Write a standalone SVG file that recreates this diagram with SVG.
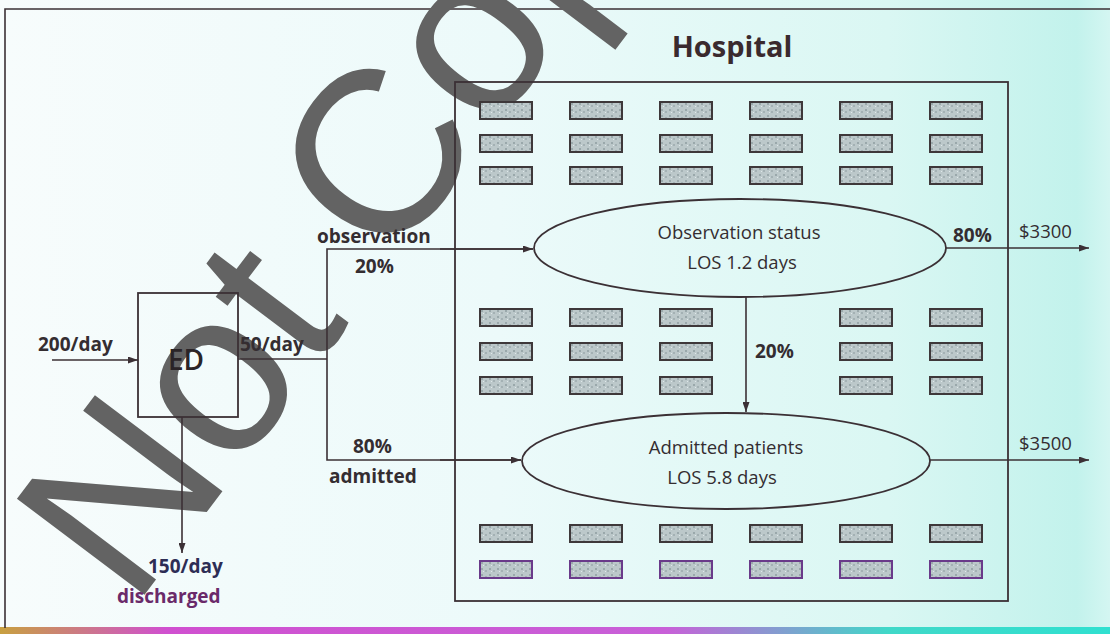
<svg xmlns="http://www.w3.org/2000/svg" xmlns:xlink="http://www.w3.org/1999/xlink" width="1110" height="634" viewBox="0 0 1110 634">
  <defs>
    <linearGradient id="paper" x1="0" y1="0" x2="1" y2="0">
      <stop offset="0" stop-color="#f7fcfc"/>
      <stop offset="0.45" stop-color="#ecfafa"/>
      <stop offset="0.8" stop-color="#daf7f3"/>
      <stop offset="0.97" stop-color="#c2f2ec"/>
      <stop offset="1" stop-color="#d4f6f2"/>
    </linearGradient>
    <linearGradient id="edge" x1="0" y1="0" x2="1" y2="0">
      <stop offset="0" stop-color="#c8a040"/>
      <stop offset="0.15" stop-color="#d050d0"/>
      <stop offset="0.6" stop-color="#c860d8"/>
      <stop offset="0.8" stop-color="#40d8c8"/>
      <stop offset="1" stop-color="#30e0d0"/>
    </linearGradient>
    <pattern id="speckle" width="8" height="6" patternUnits="userSpaceOnUse">
      <rect width="8" height="6" fill="#bcc8ca"/>
      <rect x="1" y="1" width="2" height="2" fill="#9aa8ab"/>
      <rect x="5" y="3" width="2" height="2" fill="#a4b1b4"/>
      <rect x="3" y="4" width="1" height="1" fill="#dfe8ea"/>
    </pattern>
    <rect id="bed" width="52" height="17" fill="url(#speckle)" stroke="#3e383a" stroke-width="2"/>
    <rect id="bedlow" width="52" height="17" fill="url(#speckle)" stroke="#6a3a8a" stroke-width="2"/>
    <marker id="arrow" viewBox="0 0 10 7" refX="10" refY="3.5" markerWidth="10" markerHeight="7" markerUnits="userSpaceOnUse" orient="auto">
      <path d="M0,0 L10,3.5 L0,7 z" fill="#3b3035"/>
    </marker>
    <style>
      .ln { fill: none; stroke: #3b3035; stroke-width: 1.6; }
      .box { fill: none; stroke: #3b3035; stroke-width: 1.8; }
      .lbl { font-family: "Open Sans", "Noto Sans", sans-serif; font-weight: bold; font-size: 19px; fill: #342d31; }
      .reg { font-family: "Open Sans", "Noto Sans", sans-serif; font-size: 18.5px; fill: #342d31; }
      .mark { font-family: "Liberation Sans", Arial, sans-serif; font-size: 232px; fill: #636363; }
    </style>
  </defs>

  <!-- paper and frame -->
  <rect width="1110" height="634" fill="url(#paper)"/>
  <rect x="0" y="627" width="1110" height="7" fill="url(#edge)"/>
  <path d="M5,628 L5,9 L1110,9" class="ln"/>

  <!-- diagonal stamp behind the drawing -->
  <text class="mark" transform="translate(133,610) rotate(-53)">Not Copy</text>

  <!-- hospital area -->
  <g id="hospital">
    <rect x="455" y="82" width="553" height="519" class="box"/>
    <text x="732" y="57" text-anchor="middle" font-family="Open Sans, Noto Sans, sans-serif" font-weight="bold" font-size="29" fill="#3a2a2e">Hospital</text>
  </g>

  <!-- beds -->
  <g id="beds-top">
    <use xlink:href="#bed" x="480" y="102"/><use xlink:href="#bed" x="570" y="102"/><use xlink:href="#bed" x="660" y="102"/>
    <use xlink:href="#bed" x="750" y="102"/><use xlink:href="#bed" x="840" y="102"/><use xlink:href="#bed" x="930" y="102"/>
    <use xlink:href="#bed" x="480" y="135"/><use xlink:href="#bed" x="570" y="135"/><use xlink:href="#bed" x="660" y="135"/>
    <use xlink:href="#bed" x="750" y="135"/><use xlink:href="#bed" x="840" y="135"/><use xlink:href="#bed" x="930" y="135"/>
    <use xlink:href="#bed" x="480" y="167"/><use xlink:href="#bed" x="570" y="167"/><use xlink:href="#bed" x="660" y="167"/>
    <use xlink:href="#bed" x="750" y="167"/><use xlink:href="#bed" x="840" y="167"/><use xlink:href="#bed" x="930" y="167"/>
  </g>
  <g id="beds-middle">
    <use xlink:href="#bed" x="480" y="309"/><use xlink:href="#bed" x="570" y="309"/><use xlink:href="#bed" x="660" y="309"/>
    <use xlink:href="#bed" x="840" y="309"/><use xlink:href="#bed" x="930" y="309"/>
    <use xlink:href="#bed" x="480" y="343"/><use xlink:href="#bed" x="570" y="343"/><use xlink:href="#bed" x="660" y="343"/>
    <use xlink:href="#bed" x="840" y="343"/><use xlink:href="#bed" x="930" y="343"/>
    <use xlink:href="#bed" x="480" y="377"/><use xlink:href="#bed" x="570" y="377"/><use xlink:href="#bed" x="660" y="377"/>
    <use xlink:href="#bed" x="840" y="377"/><use xlink:href="#bed" x="930" y="377"/>
  </g>
  <g id="beds-bottom">
    <use xlink:href="#bed" x="480" y="525"/><use xlink:href="#bed" x="570" y="525"/><use xlink:href="#bed" x="660" y="525"/>
    <use xlink:href="#bed" x="750" y="525"/><use xlink:href="#bed" x="840" y="525"/><use xlink:href="#bed" x="930" y="525"/>
    <use xlink:href="#bedlow" x="480" y="561"/><use xlink:href="#bedlow" x="570" y="561"/><use xlink:href="#bedlow" x="660" y="561"/>
    <use xlink:href="#bedlow" x="750" y="561"/><use xlink:href="#bedlow" x="840" y="561"/><use xlink:href="#bedlow" x="930" y="561"/>
  </g>

  <!-- emergency department -->
  <g id="ed">
    <rect x="138" y="293" width="100" height="124" class="box"/>
    <text x="186" y="370" text-anchor="middle" font-family="Open Sans, Noto Sans, sans-serif" font-weight="600" font-size="28" fill="#2a2427">ED</text>
  </g>

  <!-- observation unit -->
  <g id="observation">
    <ellipse cx="740" cy="248" rx="206" ry="49" class="box"/>
    <text x="739" y="239" text-anchor="middle" class="reg">Observation status</text>
    <text x="742" y="269" text-anchor="middle" class="reg">LOS 1.2 days</text>
  </g>

  <!-- inpatient unit -->
  <g id="admitted">
    <ellipse cx="726" cy="461" rx="204" ry="48" class="box"/>
    <text x="726" y="454" text-anchor="middle" class="reg">Admitted patients</text>
    <text x="722" y="484" text-anchor="middle" class="reg">LOS 5.8 days</text>
  </g>

  <!-- patient flows -->
  <g id="connectors">
    <line x1="52" y1="360" x2="138" y2="360" class="ln" marker-end="url(#arrow)"/>
    <line x1="238" y1="359" x2="327" y2="359" class="ln"/>
    <path d="M533,249 L327,249 L327,460 L521,460" class="ln"/>
    <line x1="440" y1="249" x2="533" y2="249" class="ln" marker-end="url(#arrow)"/>
    <line x1="440" y1="460" x2="521" y2="460" class="ln" marker-end="url(#arrow)"/>
    <line x1="182" y1="417" x2="182" y2="553" class="ln" marker-end="url(#arrow)"/>
    <line x1="746" y1="297" x2="746" y2="412" class="ln" marker-end="url(#arrow)"/>
    <line x1="946" y1="248" x2="1089" y2="248" class="ln" marker-end="url(#arrow)"/>
    <line x1="930" y1="460" x2="1089" y2="460" class="ln" marker-end="url(#arrow)"/>
  </g>

  <!-- flow labels -->
  <g id="labels">
    <text x="38" y="351" class="lbl">200/day</text>
    <text x="240" y="351" class="lbl">50/day</text>
    <text x="317" y="243" class="lbl">observation</text>
    <text x="355" y="273" class="lbl">20%</text>
    <text x="353" y="453" class="lbl">80%</text>
    <text x="329" y="483" class="lbl">admitted</text>
    <text x="755" y="358" class="lbl">20%</text>
    <text x="953" y="242" class="lbl">80%</text>
    <text x="1019" y="238" class="reg" font-size="19">$3300</text>
    <text x="1019" y="450" class="reg" font-size="19">$3500</text>
    <text x="148" y="573" class="lbl" style="fill:#2d2d55">150/day</text>
    <text x="117" y="603" class="lbl" style="fill:#6a2a6a">discharged</text>
  </g>
</svg>
